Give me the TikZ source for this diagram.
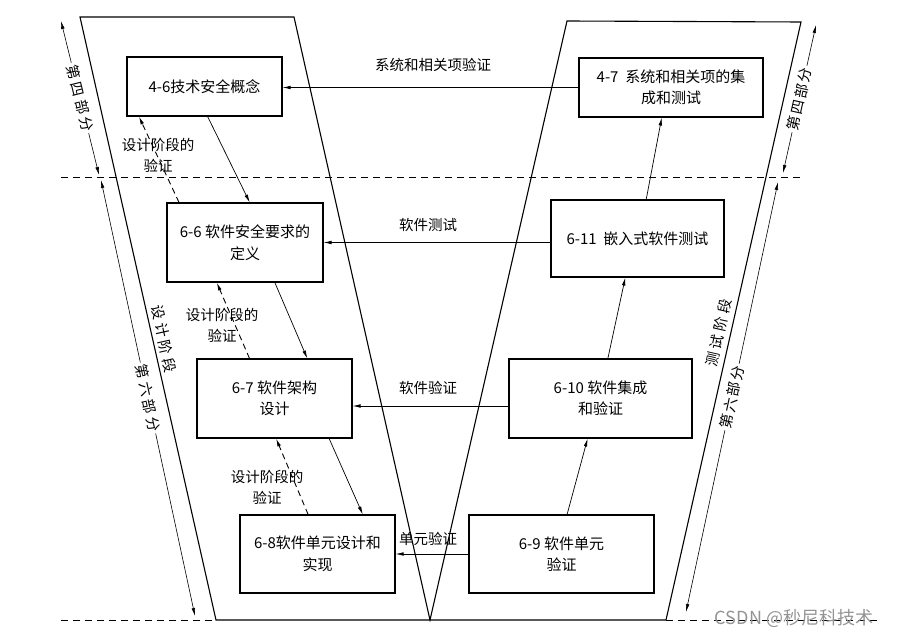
\documentclass[tikz,border=0pt]{standalone}
\usepackage{fontspec}
\setmainfont{Noto Sans CJK SC}
\usetikzlibrary{arrows.meta,calc}
\newcommand{\chgap}{\kern3.5pt}
\begin{document}
\begin{tikzpicture}[x=1pt,y=-1pt,
  box/.style={draw,line width=1.1pt,align=center,inner sep=0pt,
    font=\fontsize{15}{21.5}\selectfont},
  tip/.style={-{Latex[length=8pt,width=3.6pt]}},
  arr/.style={line width=0.7pt,tip},
  darr/.style={line width=0.9pt,tip,dash pattern=on 6pt off 4pt},
  frame/.style={line width=1.1pt},
  dline/.style={line width=0.8pt,dash pattern=on 7pt off 5pt},
  guide/.style={line width=0.6pt,{Latex[length=8pt,width=3.6pt]}-{Latex[length=8pt,width=3.6pt]}},
  lbl/.style={font=\fontsize{14.5}{21}\selectfont,align=center,inner sep=1pt},
  side/.style={lbl,fill=white,inner sep=2pt}
]
\useasboundingbox (0,0) rectangle (897,636);

% frames of the V
\draw[frame] (80,17) -- (294,17) -- (430,620) -- (567,21) -- (801,22) -- (666,620) -- (216,620) -- cycle;
% dashed level lines
\draw[dline] (61,177) -- (802,177);
\draw[dline] (61,620) -- (216,620);
\draw[dline] (666,620) -- (880,620);

% boxes
\node[box,minimum width=155pt,minimum height=59pt] (b46) at (204.5,86.5) {4-6技术安全概念};
\node[box,minimum width=156pt,minimum height=79pt] (b66) at (245,242.5) {6-6 软件安全要求的\\定义};
\node[box,minimum width=155pt,minimum height=79pt] (b67) at (274.5,398.5) {6-7 软件架构\\设计};
\node[box,minimum width=155pt,minimum height=78pt] (b68) at (317.5,554) {6-8软件单元设计和\\实现};
\node[box,minimum width=184pt,minimum height=59pt] (b47) at (671,87.5) {4-7\ \ 系统和相关项的集\\成和测试};
\node[box,minimum width=173pt,minimum height=77pt] (b611) at (637.5,238.5) {6-11\ \ 嵌入式软件测试};
\node[box,minimum width=183pt,minimum height=79pt] (b610) at (600.5,398.5) {6-10 软件集成\\和验证};
\node[box,minimum width=185pt,minimum height=78pt] (b69) at (561.5,554) {6-9 软件单元\\验证};

% horizontal verification arrows
\draw[arr] (b47.west) -- (b47.west -| b46.east);
\draw[arr] (b611.west |- b66.east) -- (b66.east);
\draw[arr] ([yshift=-7.5pt]b610.west) -- ([yshift=-7.5pt]b67.east);
\draw[arr] (b69.west |- b68.east) -- (b68.east);
\node[lbl] (t1) at (433,65) {系统和相关项验证};
\node[lbl] (t2) at (428,225) {软件测试};
\node[lbl] (t3) at (428,388) {软件验证};
\node[lbl] (t4) at (428,539) {单元验证};

% design flow (solid, down)
\draw[arr] ($(b46.south west)!0.52!(b46.south east)$) -- ($(b66.north west)!0.53!(b66.north east)$);
\draw[arr] ($(b66.south west)!0.69!(b66.south east)$) -- ($(b67.north west)!0.71!(b67.north east)$);
\draw[arr] ($(b67.south west)!0.85!(b67.south east)$) -- ($(b68.north west)!0.79!(b68.north east)$);

% design verification (dashed, up)
\draw[darr] ($(b66.north west)!0.08!(b66.north east)$) -- ($(b46.south west)!0.08!(b46.south east)$);
\draw[darr] ($(b67.north west)!0.34!(b67.north east)$) -- ($(b66.south west)!0.32!(b66.south east)$);
\draw[darr] ($(b68.north west)!0.44!(b68.north east)$) -- ($(b67.south west)!0.51!(b67.south east)$);
\node[lbl] (d1) at (158,155) {设计阶段的\\验证};
\node[lbl] (d2) at (222,325) {设计阶段的\\验证};
\node[lbl] (d3) at (267,487) {设计阶段的\\验证};

% integration flow (solid, up)
\draw[arr] ($(b611.north west)!0.55!(b611.north east)$) -- ($(b47.south west)!0.45!(b47.south east)$);
\draw[arr] ($(b610.north west)!0.54!(b610.north east)$) -- ($(b611.south west)!0.43!(b611.south east)$);
\draw[arr] ($(b69.north west)!0.53!(b69.north east)$) -- ($(b610.south west)!0.43!(b610.south east)$);

% side guides, left
\coordinate (la) at (61,21);
\coordinate (lb) at (99,175);
\coordinate (lc) at (101,180);
\coordinate (ld) at (195,616);
\draw[guide] (la) -- node[side,sloped] (s1) {第\chgap 四\chgap 部\chgap 分} (lb);
\draw[guide] (lc) -- node[side,sloped] (s2) {第\chgap 六\chgap 部\chgap 分} (ld);
\node[lbl,rotate=-77.3] (s3) at (164,339) {设\chgap 计\chgap 阶\chgap 段};

% side guides, right
\coordinate (ra) at (816,25);
\coordinate (rb) at (783,173);
\coordinate (rc) at (778,182);
\coordinate (rd) at (686,612);
\draw[guide] (rb) -- node[side,sloped] (s4) {第\kern2pt 四\kern2pt 部\kern2pt 分} (ra);
\draw[guide] (rd) -- node[side,sloped] (s5) {第\kern2pt 六\kern2pt 部\kern2pt 分} (rc);
\node[lbl,rotate=77.3] (s6) at (719,333) {测\chgap 试\chgap 阶\chgap 段};

% watermark
\node[text=black!42,font=\fontsize{18}{18}\selectfont,inner sep=0pt] (wm) at (794,618) {CSDN @秒尼科技术};
\end{tikzpicture}
\end{document}
